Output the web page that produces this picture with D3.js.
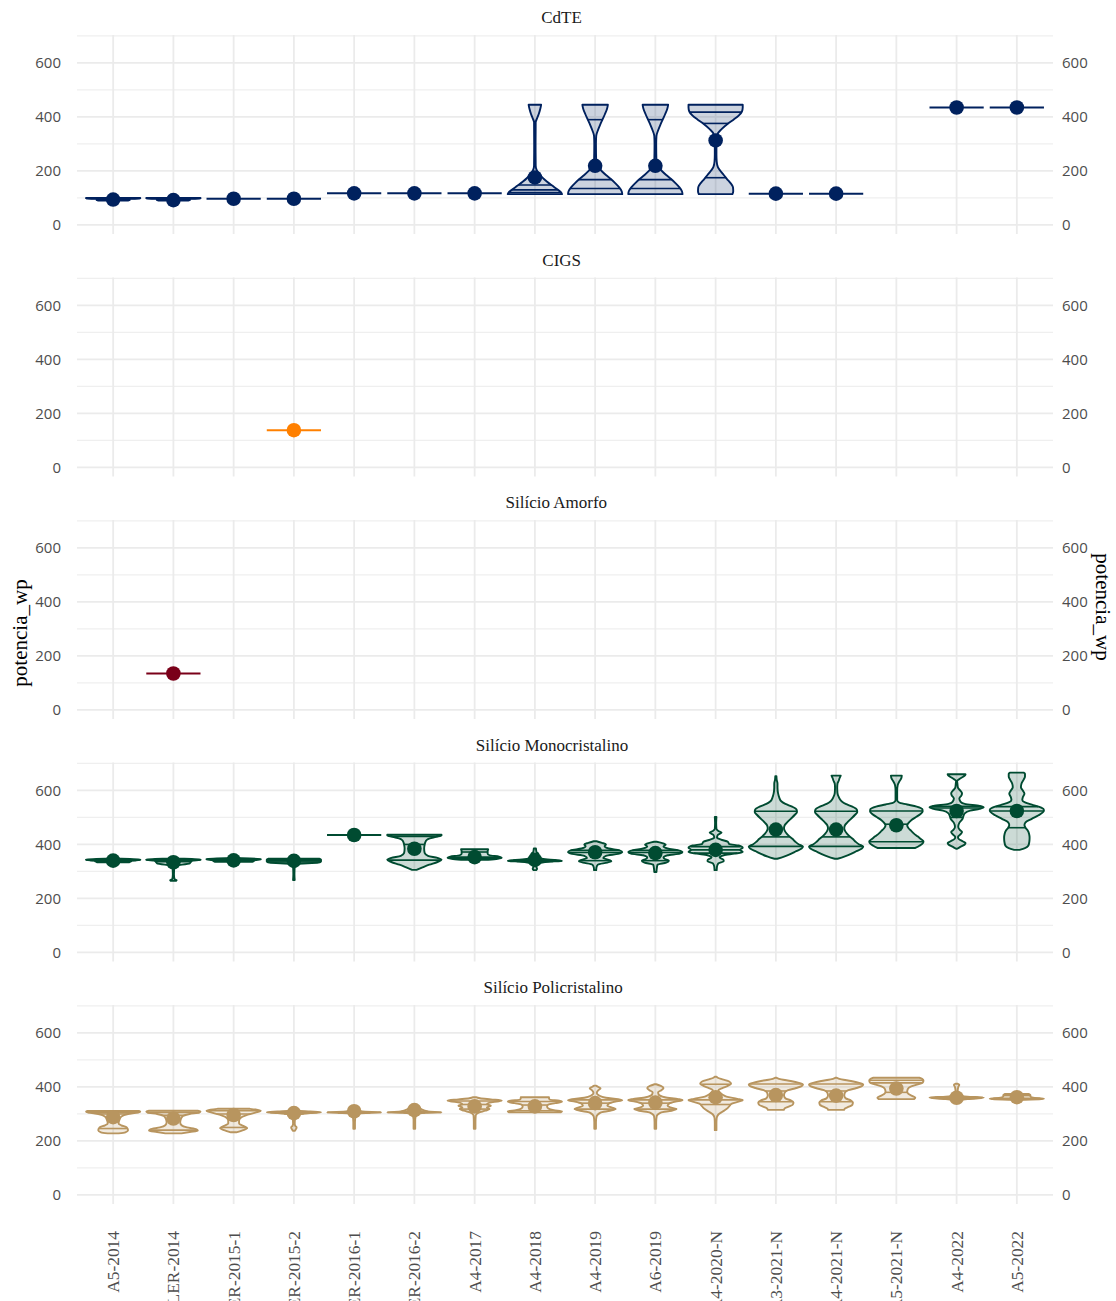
<!DOCTYPE html>
<html>
<head>
<meta charset="utf-8">
<script src="https://cdn.jsdelivr.net/npm/d3@7"></script>
<style>
  html, body { margin: 0; padding: 0; background: #fff; overflow: hidden; }
  svg { display: block; }
</style>
</head>
<body>
<svg id="chart" width="1116" height="1301"></svg>
<script>
// Auctions on the x axis
const leiloes = ["A5-2014", "LER-2014", "LER-2015-1", "LER-2015-2", "LER-2016-1", "LER-2016-2",
  "A4-2017", "A4-2018", "A4-2019", "A6-2019", "A4-2020-N", "A3-2021-N", "A4-2021-N",
  "A5-2021-N", "A4-2022", "A5-2022"];

// Facets (module technology), top to bottom
const tecnologias = ["CdTE", "CIGS", "Silício Amorfo", "Silício Monocristalino", "Silício Policristalino"];
const coresTecnologia = ["#00215E", "#FF8000", "#7A0019", "#004B31", "#B8955F"];

const yTicks = [0, 200, 400, 600];
const yMinorTicks = [100, 300, 500, 700];
const yDomain = [-33.5, 703.5];

// Each violin: auction, mean power (W), quartile lines, and the density outline as
// [potencia_wp, relative half-width] pairs (1 = widest violin of the facet column).
const violinosCdTE = [
  { leilao: "A5-2014", media: 94, quartis: [93, 95, 98], forma: [[90, 0.55], [93, 0.62], [96, 0.6], [98, 1.0], [100, 1.0]] },
  { leilao: "LER-2014", media: 92, quartis: [92, 95, 98], forma: [[90, 0.55], [93, 0.62], [96, 0.6], [98, 1.0], [100, 1.0]] },
  { leilao: "LER-2015-1", media: 97, quartis: [97, 97, 97], forma: [[97, 1]] },
  { leilao: "LER-2015-2", media: 97, quartis: [97, 97, 97], forma: [[97, 1]] },
  { leilao: "LER-2016-1", media: 117, quartis: [117, 117, 117], forma: [[117, 1]] },
  { leilao: "LER-2016-2", media: 117, quartis: [117, 117, 117], forma: [[117, 1]] },
  { leilao: "A4-2017", media: 117, quartis: [117, 117, 117], forma: [[117, 1]] },
  { leilao: "A4-2018", media: 176, quartis: [120, 130, 148],
    forma: [[114, 1.0], [120, 0.97], [130, 0.85], [145, 0.65], [160, 0.45], [175, 0.28], [190, 0.15], [205, 0.06], [220, 0.03],
            [300, 0.025], [380, 0.03], [395, 0.08], [410, 0.14], [430, 0.2], [445, 0.23]] },
  { leilao: "A4-2019", media: 219, quartis: [135, 168, 390],
    forma: [[114, 1.0], [125, 0.98], [140, 0.88], [155, 0.74], [170, 0.58], [185, 0.4], [200, 0.24], [215, 0.1], [230, 0.04],
            [300, 0.03], [330, 0.04], [350, 0.1], [370, 0.18], [390, 0.27], [410, 0.36], [430, 0.44], [445, 0.47]] },
  { leilao: "A6-2019", media: 219, quartis: [135, 168, 390],
    forma: [[114, 1.0], [125, 0.98], [140, 0.88], [155, 0.74], [170, 0.58], [185, 0.4], [200, 0.24], [215, 0.1], [230, 0.04],
            [300, 0.03], [330, 0.04], [350, 0.1], [370, 0.18], [390, 0.27], [410, 0.36], [430, 0.44], [445, 0.47]] },
  { leilao: "A4-2020-N", media: 313, quartis: [175, 376, 418],
    forma: [[114, 0.62], [125, 0.65], [140, 0.64], [155, 0.55], [170, 0.42], [185, 0.3], [200, 0.18], [215, 0.08], [235, 0.04],
            [260, 0.03], [300, 0.03], [335, 0.06], [355, 0.22], [375, 0.45], [390, 0.66], [405, 0.85], [420, 0.97], [435, 1.0], [445, 1.0]] },
  { leilao: "A3-2021-N", media: 116, quartis: [116, 116, 116], forma: [[116, 1]] },
  { leilao: "A4-2021-N", media: 116, quartis: [116, 116, 116], forma: [[116, 1]] },
  { leilao: "A4-2022", media: 435, quartis: [435, 435, 435], forma: [[435, 1]] },
  { leilao: "A5-2022", media: 435, quartis: [435, 435, 435], forma: [[435, 1]] }
];

const violinosCIGS = [
  { leilao: "LER-2015-2", media: 138, quartis: [138, 138, 138], forma: [[138, 1]] }
];

const violinosAmorfo = [
  { leilao: "LER-2014", media: 135, quartis: [135, 135, 135], forma: [[135, 1]] }
];

const violinosMono = [
  { leilao: "A5-2014", media: 340, quartis: [338, 341, 343], forma: [[334, 0.6], [337, 0.65], [340, 0.7], [342, 1.0], [345, 1.0], [347, 0.3]] },
  { leilao: "LER-2014", media: 334, quartis: [336, 340, 343],
    forma: [[265, 0.1], [268, 0.12], [272, 0.04], [290, 0.02], [320, 0.04], [330, 0.6], [336, 0.65], [340, 0.7], [342, 1.0], [345, 1.0], [347, 0.4]] },
  { leilao: "LER-2015-1", media: 341, quartis: [339, 342, 345], forma: [[336, 0.7], [339, 0.75], [342, 0.8], [344, 1.0], [347, 1.0], [349, 0.3]] },
  { leilao: "LER-2015-2", media: 339, quartis: [335, 339, 344],
    forma: [[268, 0.03], [290, 0.02], [318, 0.03], [328, 0.1], [333, 0.9], [337, 1.0], [344, 1.0], [347, 0.95]] },
  { leilao: "LER-2016-1", media: 435, quartis: [435, 435, 435], forma: [[435, 1]] },
  { leilao: "LER-2016-2", media: 384, quartis: [342, 400, 430],
    forma: [[306, 0.08], [315, 0.3], [325, 0.55], [335, 0.85], [343, 1.0], [350, 0.85], [358, 0.5], [368, 0.38], [385, 0.36],
            [400, 0.38], [412, 0.42], [420, 0.5], [428, 0.8], [433, 1.0], [436, 1.0]] },
  { leilao: "A4-2017", media: 353, quartis: [349, 353, 372],
    forma: [[343, 0.5], [347, 0.85], [351, 1.0], [355, 0.9], [360, 0.55], [366, 0.48], [375, 0.48], [382, 0.5]] },
  { leilao: "A4-2018", media: 343, quartis: [337, 339, 342],
    forma: [[305, 0.05], [310, 0.08], [318, 0.05], [330, 0.15], [336, 0.5], [339, 1.0], [342, 0.8], [346, 0.3], [355, 0.1],
            [365, 0.13], [372, 0.06], [385, 0.04]] },
  { leilao: "A4-2019", media: 371, quartis: [340, 370, 378],
    forma: [[305, 0.04], [315, 0.05], [325, 0.1], [333, 0.45], [338, 0.6], [343, 0.5], [350, 0.3], [358, 0.4], [365, 0.85],
            [372, 1.0], [378, 0.9], [385, 0.5], [393, 0.35], [400, 0.4], [406, 0.25], [412, 0.05]] },
  { leilao: "A6-2019", media: 368, quartis: [340, 370, 378],
    forma: [[298, 0.04], [310, 0.05], [325, 0.08], [333, 0.4], [340, 0.5], [346, 0.35], [352, 0.3], [360, 0.45], [366, 0.9],
            [372, 1.0], [378, 0.85], [385, 0.45], [392, 0.3], [400, 0.38], [406, 0.22], [410, 0.05]] },
  { leilao: "A4-2020-N", media: 380, quartis: [368, 380, 392],
    forma: [[305, 0.04], [318, 0.05], [330, 0.1], [338, 0.3], [344, 0.28], [352, 0.15], [360, 0.3], [366, 0.7], [372, 1.0],
            [380, 0.9], [388, 1.0], [396, 0.85], [402, 0.5], [410, 0.45], [418, 0.2], [425, 0.05], [435, 0.08], [444, 0.22],
            [450, 0.1], [458, 0.03], [480, 0.02], [502, 0.03]] },
  { leilao: "A3-2021-N", media: 455, quartis: [393, 428, 523],
    forma: [[347, 0.05], [355, 0.3], [365, 0.55], [375, 0.75], [385, 0.95], [392, 1.0], [400, 0.85], [410, 0.72], [420, 0.62],
            [430, 0.5], [440, 0.4], [450, 0.33], [460, 0.3], [470, 0.32], [480, 0.4], [495, 0.55], [510, 0.7], [520, 0.78],
            [530, 0.76], [540, 0.6], [550, 0.35], [560, 0.2], [575, 0.12], [590, 0.08], [610, 0.06], [625, 0.06], [640, 0.03], [653, 0.02]] },
  { leilao: "A4-2021-N", media: 455, quartis: [393, 428, 523],
    forma: [[347, 0.05], [355, 0.3], [365, 0.55], [375, 0.75], [385, 0.95], [392, 1.0], [400, 0.85], [410, 0.72], [420, 0.62],
            [430, 0.5], [440, 0.4], [450, 0.33], [460, 0.3], [470, 0.32], [480, 0.4], [495, 0.55], [510, 0.7], [520, 0.78],
            [530, 0.76], [540, 0.6], [550, 0.35], [560, 0.2], [575, 0.1], [590, 0.05], [610, 0.04], [625, 0.05], [637, 0.1],
            [646, 0.13], [655, 0.17]] },
  { leilao: "A5-2021-N", media: 471, quartis: [410, 475, 524],
    forma: [[387, 0.7], [395, 0.85], [405, 0.98], [412, 1.0], [420, 0.9], [430, 0.78], [440, 0.65], [450, 0.55], [460, 0.45],
            [470, 0.4], [480, 0.45], [490, 0.55], [500, 0.7], [512, 0.88], [522, 0.97], [530, 0.96], [540, 0.75], [548, 0.4],
            [555, 0.1], [565, 0.03], [600, 0.03], [620, 0.05], [635, 0.12], [645, 0.18], [655, 0.2]] },
  { leilao: "A4-2022", media: 524, quartis: [500, 535, 541],
    forma: [[384, 0.02], [392, 0.15], [400, 0.3], [405, 0.33], [412, 0.22], [420, 0.08], [428, 0.05], [438, 0.15], [446, 0.2],
            [454, 0.12], [465, 0.06], [480, 0.1], [495, 0.22], [505, 0.25], [515, 0.3], [525, 0.5], [532, 0.85], [538, 1.0],
            [543, 0.85], [550, 0.3], [558, 0.15], [570, 0.1], [582, 0.18], [590, 0.2], [598, 0.15], [610, 0.05], [625, 0.03],
            [635, 0.02], [645, 0.15], [655, 0.3], [660, 0.33]] },
  { leilao: "A5-2022", media: 524, quartis: [462, 524, 540],
    forma: [[380, 0.1], [386, 0.3], [395, 0.42], [410, 0.46], [425, 0.47], [440, 0.45], [452, 0.4], [462, 0.32], [472, 0.28],
            [482, 0.32], [495, 0.55], [508, 0.8], [520, 0.97], [528, 1.0], [536, 0.9], [546, 0.6], [556, 0.3], [565, 0.2],
            [575, 0.22], [588, 0.28], [600, 0.22], [612, 0.15], [625, 0.17], [640, 0.25], [652, 0.3], [662, 0.3], [666, 0.25]] }
];

const violinosPoli = [
  { leilao: "A5-2014", media: 288, quartis: [246, 300, 306],
    forma: [[228, 0.2], [232, 0.45], [240, 0.55], [250, 0.5], [258, 0.3], [265, 0.2], [275, 0.22], [290, 0.3], [300, 0.55],
            [305, 0.9], [308, 1.0], [311, 0.95]] },
  { leilao: "LER-2014", media: 283, quartis: [240, 295, 306],
    forma: [[228, 0.3], [233, 0.6], [238, 0.9], [243, 0.85], [250, 0.5], [258, 0.3], [268, 0.25], [280, 0.27], [292, 0.35],
            [300, 0.6], [305, 0.95], [309, 1.0], [312, 0.9]] },
  { leilao: "LER-2015-1", media: 296, quartis: [250, 300, 312],
    forma: [[232, 0.1], [240, 0.35], [248, 0.5], [256, 0.35], [265, 0.2], [275, 0.2], [285, 0.25], [295, 0.45], [305, 0.8],
            [312, 1.0], [316, 0.85], [319, 0.6]] },
  { leilao: "LER-2015-2", media: 303, quartis: [300, 305, 307],
    forma: [[238, 0.04], [245, 0.08], [250, 0.1], [256, 0.05], [265, 0.03], [285, 0.05], [298, 0.2], [303, 0.6], [306, 1.0],
            [309, 0.6], [312, 0.15], [318, 0.05]] },
  { leilao: "LER-2016-1", media: 310, quartis: [304, 306, 308],
    forma: [[245, 0.03], [270, 0.03], [290, 0.05], [302, 0.2], [306, 1.0], [309, 0.3], [316, 0.1], [322, 0.05]] },
  { leilao: "LER-2016-2", media: 314, quartis: [304, 306, 309],
    forma: [[245, 0.03], [280, 0.03], [298, 0.08], [304, 0.4], [306, 1.0], [309, 0.5], [318, 0.25], [325, 0.15], [330, 0.05]] },
  { leilao: "A4-2017", media: 328, quartis: [318, 335, 348],
    forma: [[245, 0.03], [270, 0.03], [295, 0.04], [305, 0.15], [312, 0.4], [318, 0.55], [324, 0.45], [330, 0.6], [336, 0.45],
            [342, 0.55], [347, 0.9], [350, 1.0], [354, 0.6], [358, 0.2], [362, 0.05]] },
  { leilao: "A4-2018", media: 328, quartis: [312, 333, 346],
    forma: [[306, 0.95], [310, 1.0], [314, 0.7], [320, 0.5], [328, 0.45], [335, 0.5], [340, 0.75], [345, 1.0], [349, 0.9],
            [353, 0.55], [358, 0.52], [362, 0.52]] },
  { leilao: "A4-2019", media: 340, quartis: [318, 340, 352],
    forma: [[245, 0.03], [270, 0.03], [290, 0.05], [305, 0.2], [312, 0.55], [318, 0.76], [324, 0.6], [330, 0.45], [338, 0.5],
            [346, 0.75], [351, 1.0], [355, 0.85], [360, 0.4], [368, 0.15], [378, 0.06], [388, 0.12], [395, 0.2], [400, 0.12], [405, 0.03]] },
  { leilao: "A6-2019", media: 342, quartis: [318, 340, 352],
    forma: [[245, 0.03], [270, 0.03], [292, 0.05], [305, 0.2], [312, 0.6], [318, 0.78], [324, 0.55], [330, 0.45], [338, 0.5],
            [346, 0.75], [351, 1.0], [355, 0.85], [362, 0.35], [372, 0.12], [380, 0.1], [388, 0.22], [396, 0.3], [404, 0.2], [410, 0.03]] },
  { leilao: "A4-2020-N", media: 362, quartis: [335, 352, 410],
    forma: [[240, 0.03], [265, 0.03], [285, 0.04], [298, 0.1], [308, 0.25], [318, 0.4], [328, 0.5], [338, 0.6], [346, 0.85],
            [351, 1.0], [356, 0.8], [364, 0.4], [372, 0.25], [380, 0.15], [388, 0.1], [396, 0.25], [404, 0.45], [412, 0.57],
            [420, 0.5], [428, 0.25], [434, 0.08], [438, 0.03]] },
  { leilao: "A3-2021-N", media: 370, quartis: [345, 385, 411],
    forma: [[315, 0.3], [320, 0.32], [326, 0.45], [334, 0.62], [342, 0.65], [350, 0.55], [358, 0.35], [368, 0.3], [378, 0.32],
            [388, 0.45], [396, 0.75], [403, 0.95], [409, 1.0], [415, 0.85], [422, 0.55], [428, 0.2], [434, 0.03]] },
  { leilao: "A4-2021-N", media: 368, quartis: [345, 385, 411],
    forma: [[315, 0.3], [320, 0.32], [326, 0.45], [334, 0.6], [342, 0.62], [350, 0.55], [358, 0.35], [368, 0.3], [378, 0.32],
            [388, 0.45], [396, 0.75], [403, 0.95], [409, 1.0], [415, 0.85], [422, 0.55], [428, 0.2], [434, 0.03]] },
  { leilao: "A5-2021-N", media: 394, quartis: [380, 415, 425],
    forma: [[355, 0.65], [360, 0.7], [366, 0.6], [374, 0.45], [382, 0.4], [392, 0.42], [402, 0.55], [410, 0.8], [416, 0.97],
            [424, 1.0], [430, 0.95], [434, 0.85]] },
  { leilao: "A4-2022", media: 360, quartis: [357, 360, 362],
    forma: [[350, 0.1], [355, 0.4], [358, 0.8], [361, 1.0], [364, 0.4], [370, 0.1], [385, 0.04], [400, 0.06], [408, 0.1], [412, 0.03]] },
  { leilao: "A5-2022", media: 362, quartis: [356, 358, 368],
    forma: [[352, 0.3], [355, 0.9], [357, 1.0], [360, 0.6], [365, 0.5], [370, 0.5], [374, 0.45]] }
];

const violinosPorTecnologia = [violinosCdTE, violinosCIGS, violinosAmorfo, violinosMono, violinosPoli];

// ---- layout ----
const svg = d3.select("#chart");
const panelLeft = 77, panelRight = 1053;
const firstTop = 35, panelH = 199, panelStep = 242.5;
const titleFont = "'Liberation Serif', 'Times New Roman', serif";
const tickFont = "'Open Sans', 'Noto Sans', sans-serif";

const x = d3.scalePoint().domain(leiloes).range([panelLeft, panelRight]).padding(0.6);
const halfWidth = x.step() * 0.45;

// linear lookup of the outline width at a given value
function larguraEm(forma, v) {
  if (forma.length === 1) return forma[0][1];
  if (v <= forma[0][0]) return forma[0][1];
  for (let i = 1; i < forma.length; i++) {
    if (v <= forma[i][0]) {
      const [v0, w0] = forma[i - 1], [v1, w1] = forma[i];
      return w0 + (w1 - w0) * (v - v0) / (v1 - v0);
    }
  }
  return forma[forma.length - 1][1];
}

tecnologias.forEach((tec, i) => {
  const top = firstTop + i * panelStep;
  const y = d3.scaleLinear().domain(yDomain).range([top + panelH, top]);
  const cor = coresTecnologia[i];
  const g = svg.append("g");

  // grid
  g.selectAll("line.minor").data(yMinorTicks).join("line")
    .attr("x1", panelLeft).attr("x2", panelRight)
    .attr("y1", d => y(d)).attr("y2", d => y(d))
    .attr("stroke", "#EFEFEF").attr("stroke-width", 1.2);
  g.selectAll("line.major").data(yTicks).join("line")
    .attr("x1", panelLeft).attr("x2", panelRight)
    .attr("y1", d => y(d)).attr("y2", d => y(d))
    .attr("stroke", "#EBEBEB").attr("stroke-width", 1.8);
  g.selectAll("line.vert").data(leiloes).join("line")
    .attr("x1", d => x(d)).attr("x2", d => x(d))
    .attr("y1", top).attr("y2", top + panelH)
    .attr("stroke", "#EBEBEB").attr("stroke-width", 1.8);

  // y tick labels on both sides
  const leftAxis = d3.axisLeft(y).tickValues(yTicks).tickSize(0).tickPadding(0);
  const rightAxis = d3.axisRight(y).tickValues(yTicks).tickSize(0).tickPadding(0);
  const ga = g.append("g").attr("transform", `translate(${panelLeft - 16},0)`).call(leftAxis);
  const gb = g.append("g").attr("transform", `translate(${panelRight + 9},0)`).call(rightAxis);
  [ga, gb].forEach(a => {
    a.select(".domain").remove();
    a.selectAll("text").attr("font-family", tickFont).attr("font-size", 15).attr("fill", "#4D4D4D");
  });

  // facet strip title (placed from a slightly wider nominal width, as the strip labels sit a bit left of centre)
  const titulo = g.append("text").attr("y", top - 12)
    .attr("text-anchor", "middle").attr("font-family", titleFont).attr("font-size", 17)
    .attr("fill", "#1A1A1A").text(tec);
  const largura = titulo.node().getComputedTextLength();
  titulo.attr("x", (panelLeft + panelRight) / 2 - 0.085 * largura);

  // violins
  const area = d3.area().curve(d3.curveMonotoneY)
    .y(p => y(p[0]));
  violinosPorTecnologia[i].forEach(d => {
    const cx = x(d.leilao);
    const vg = g.append("g");
    if (d.forma.length === 1) {
      vg.append("line")
        .attr("x1", cx - halfWidth * d.forma[0][1]).attr("x2", cx + halfWidth * d.forma[0][1])
        .attr("y1", y(d.forma[0][0])).attr("y2", y(d.forma[0][0]))
        .attr("stroke", cor).attr("stroke-width", 2);
    } else {
      area.x0(p => cx - p[1] * halfWidth).x1(p => cx + p[1] * halfWidth);
      vg.append("path").attr("d", area(d.forma))
        .attr("fill", cor).attr("fill-opacity", 0.2)
        .attr("stroke", cor).attr("stroke-width", 1.9).attr("stroke-linejoin", "round");
      d.quartis.forEach(q => {
        const w = larguraEm(d.forma, q) * halfWidth;
        vg.append("line").attr("x1", cx - w).attr("x2", cx + w)
          .attr("y1", y(q)).attr("y2", y(q))
          .attr("stroke", cor).attr("stroke-width", 1.6);
      });
    }
    vg.append("circle").attr("cx", cx).attr("cy", y(d.media)).attr("r", 7.3).attr("fill", cor);
  });
});

// x labels under the last facet
const lastBottom = firstTop + 4 * panelStep + panelH;
svg.append("g").selectAll("text").data(leiloes).join("text")
  .attr("transform", d => `translate(${x(d)},${lastBottom + 27}) rotate(-90)`)
  .attr("text-anchor", "end").attr("dy", "0.35em")
  .attr("font-family", titleFont).attr("font-size", 17.4).attr("fill", "#4D4D4D")
  .text(d => d);

// axis titles
svg.append("text").attr("transform", "translate(20,633) rotate(-90)")
  .attr("text-anchor", "middle").attr("dy", "0.35em")
  .attr("font-family", titleFont).attr("font-size", 21).attr("fill", "#000")
  .text("potencia_wp");
svg.append("text").attr("transform", "translate(1103,607) rotate(90)")
  .attr("text-anchor", "middle").attr("dy", "0.35em")
  .attr("font-family", titleFont).attr("font-size", 21).attr("fill", "#000")
  .text("potencia_wp");
</script>
</body>
</html>
